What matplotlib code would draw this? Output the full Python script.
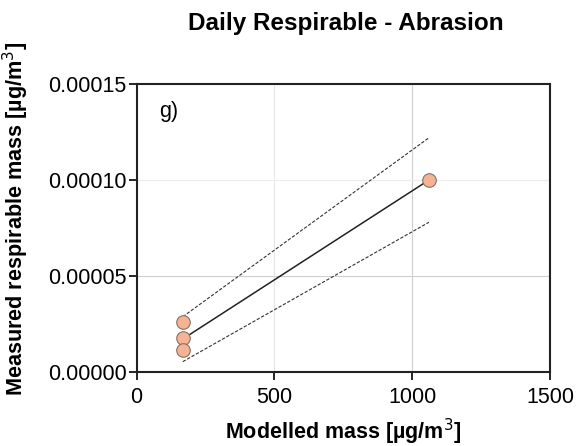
import matplotlib
matplotlib.use("Agg")
import matplotlib.pyplot as plt

plt.rcParams['font.family'] = ['Liberation Sans', 'DejaVu Sans']

# Data
modelled = [168, 168, 168, 1061]
measured = [2.62e-5, 1.75e-5, 1.15e-5, 1.00e-4]

fit_x = [168, 1061]
fit_y = [1.72e-5, 1.00e-4]
upper_y = [2.88e-5, 1.22e-4]
lower_y = [0.54e-5, 7.8e-5]

x_ticks = [0, 500, 1000, 1500]
y_ticks = [0.0, 0.00005, 0.00010, 0.00015]
y_tick_labels = ["0.00000", "0.00005", "0.00010", "0.00015"]

fig = plt.figure(figsize=(5.77, 4.46), dpi=100)
ax = fig.add_axes([0.2366, 0.1659, 0.7166, 0.6458])

ax.set_xlim(0, 1500)
ax.set_ylim(0, 0.00015)

# grid
ax.axvline(500, color='#e6e6e6', lw=0.8, zorder=0)
ax.axvline(1000, color='#cfcfcf', lw=0.8, zorder=0)
ax.axhline(0.00005, color='#cfcfcf', lw=0.8, zorder=0)
ax.axhline(0.00010, color='#ececec', lw=0.8, zorder=0)

ax.axhline(0, color='black', lw=1.0, ls=(0, (1, 1)), zorder=1)

ax.plot(fit_x, upper_y, color='#333333', lw=0.8, ls=(0, (3, 1.5)), zorder=2)
ax.plot(fit_x, lower_y, color='#333333', lw=0.8, ls=(0, (3, 1.5)), zorder=2)
ax.plot(fit_x, fit_y, color='#222222', lw=1.1, zorder=3)

ax.scatter(modelled, measured, s=95, facecolor='#F5B393', edgecolor='#8a6f60',
           linewidth=0.8, zorder=4)

ax.set_xticks(x_ticks)
ax.set_xticklabels([str(v) for v in x_ticks])
ax.set_yticks(y_ticks)
ax.set_yticklabels(y_tick_labels)
ax.tick_params(direction='out', length=6, width=1.2, labelsize=15.5, colors='black')
ax.tick_params(axis='x', pad=5)
ax.tick_params(axis='y', pad=1)

for sp in ax.spines.values():
    sp.set_linewidth(1.5)
    sp.set_color('#222222')

ax.text(0.055, 0.905, 'g)', transform=ax.transAxes, fontsize=15.5, ha='left', va='center')

ax.set_xlabel('Modelled mass [µg/m$^3$]', fontsize=15.5, fontweight='bold', labelpad=6)
ax.set_ylabel('Measured respirable mass [µg/m$^3$]', fontsize=15.6, fontweight='bold')
ax.yaxis.set_label_coords(31 / 577, 1 - 219 / 446, transform=fig.transFigure)

fig.text(0.6, 0.948, 'Daily Respirable - Abrasion', fontsize=17.5, fontweight='bold',
         ha='center', va='center')

fig.savefig('out.png', dpi=100)
